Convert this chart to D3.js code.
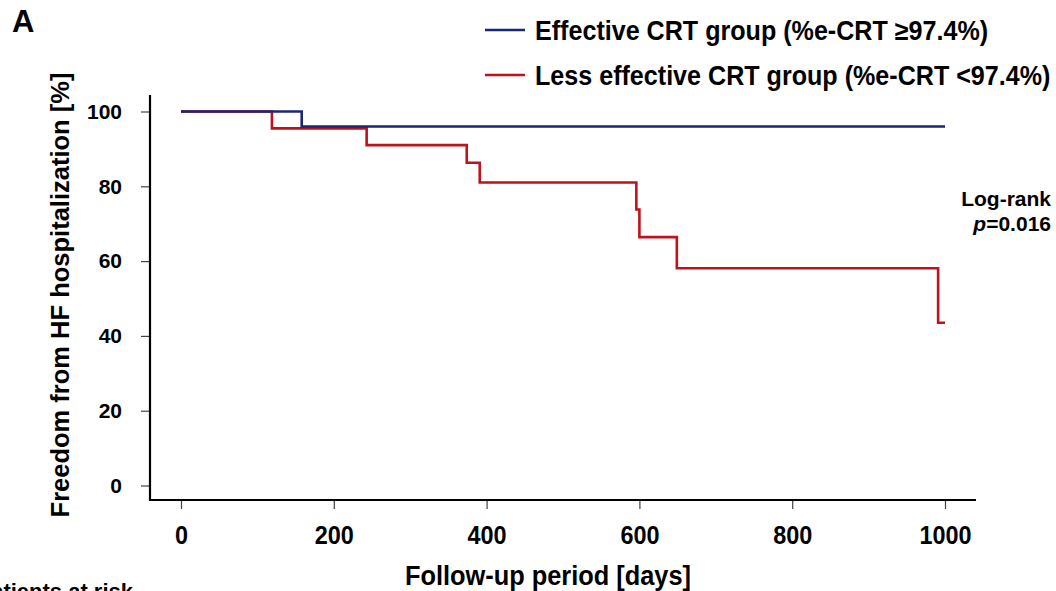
<!DOCTYPE html>
<html>
<head>
<meta charset="utf-8">
<script src="https://cdn.jsdelivr.net/npm/d3@7"></script>
<style>
  html, body { margin: 0; padding: 0; background: #fff; }
  svg { display: block; font-family: "Liberation Sans", Arial, sans-serif; font-weight: bold; }
</style>
</head>
<body>
<svg id="chart" width="1056" height="591"></svg>
<script>
// ---- data (Kaplan-Meier step points: [day, % free]) ----
const seriesNames = ["Effective CRT group (%e-CRT \u226597.4%)", "Less effective CRT group (%e-CRT <97.4%)"];
const effectiveDays = [0, 158, 1000];
const effectiveSurv = [100, 96, 96];
const lessDays = [0, 119, 243, 374, 391, 596, 600, 649, 991, 1000];
const lessSurv = [100, 95.5, 91, 86.3, 81, 73.8, 66.4, 58.1, 43.5, 43.5];
const xTicks = [0, 200, 400, 600, 800, 1000];
const yTicks = [0, 20, 40, 60, 80, 100];
const colors = ["#1a2677", "#c0121b"];

const svg = d3.select("#chart");
const x = d3.scaleLinear().domain([0, 1000]).range([181, 945]);
const y = d3.scaleLinear().domain([0, 100]).range([485.5, 111.5]);

// axes
const yAxis = d3.axisLeft(y).tickValues(yTicks).tickSize(9).tickSizeOuter(0).tickPadding(19).tickFormat(d3.format("d"));
const xAxis = d3.axisBottom(x).tickValues(xTicks).tickSize(9).tickSizeOuter(0).tickPadding(19).tickFormat(d3.format("d"));

const gy = svg.append("g").attr("transform", "translate(150,0)").call(yAxis);
const gx = svg.append("g").attr("transform", "translate(0,500)").call(xAxis);
[gy, gx].forEach(g => {
  g.select(".domain").remove();
  g.selectAll(".tick line").attr("stroke", "#444").attr("stroke-width", 1.2);
  g.selectAll(".tick text").attr("fill", "#000").style("font-weight", "bold")
    .style("font-family", "'Liberation Sans', Arial, sans-serif");
});
gy.selectAll(".tick text").style("font-size", "21px");
gx.selectAll(".tick text").style("font-size", "26px").attr("y", 26).attr("dy", "0.71em")
  .attr("transform", "scale(0.9,1)");

// axis lines
svg.append("line").attr("x1", 150).attr("x2", 150).attr("y1", 95).attr("y2", 501)
  .attr("stroke", "#000").attr("stroke-width", 2.2);
svg.append("line").attr("x1", 149).attr("x2", 976).attr("y1", 500).attr("y2", 500)
  .attr("stroke", "#000").attr("stroke-width", 2.2);

// step curves
const line = d3.line().x(d => x(d[0])).y(d => y(d[1])).curve(d3.curveStepAfter);
const lessData = lessDays.map((d, i) => [d, lessSurv[i]]);
const effData = effectiveDays.map((d, i) => [d, effectiveSurv[i]]);
svg.append("path").datum(lessData).attr("d", line).attr("fill", "none")
  .attr("stroke", colors[1]).attr("stroke-width", 2.6);
svg.append("path").datum(effData).attr("d", line).attr("fill", "none")
  .attr("stroke", colors[0]).attr("stroke-width", 2.6);

// legend
const leg = svg.append("g");
[0, 1].forEach(i => {
  const yy = 30 + i * 45;
  leg.append("line").attr("x1", 485).attr("x2", 525).attr("y1", yy).attr("y2", yy)
    .attr("stroke", colors[i]).attr("stroke-width", 2.4);
  leg.append("text").attr("transform", `translate(535,${yy}) scale(0.93,1)`).attr("dy", "0.36em")
    .style("font-size", "27px").text(seriesNames[i]);
});

// panel label
svg.append("text").attr("x", 12).attr("y", 32).style("font-size", "31px").text("A");

// log-rank annotation
const lr = svg.append("text").attr("text-anchor", "end").style("font-size", "21px");
lr.append("tspan").attr("x", 1051).attr("y", 206).text("Log-rank");
const t2 = lr.append("tspan").attr("x", 1051).attr("y", 231);
t2.append("tspan").style("font-style", "italic").text("p");
t2.append("tspan").text("=0.016");

// axis titles
svg.append("text").attr("transform", "translate(548,585) scale(0.94,1)").attr("text-anchor", "middle")
  .style("font-size", "27px").text("Follow-up period [days]");
svg.append("text").attr("transform", "translate(69,295) rotate(-90)").attr("text-anchor", "middle")
  .style("font-size", "25.5px").text("Freedom from HF hospitalization [%]");

// cut-off text at bottom left (partially outside the frame, as in the source figure)
svg.append("text").attr("x", 133).attr("y", 599).attr("text-anchor", "end")
  .style("font-size", "22px").text("Patients at risk");
</script>
</body>
</html>
